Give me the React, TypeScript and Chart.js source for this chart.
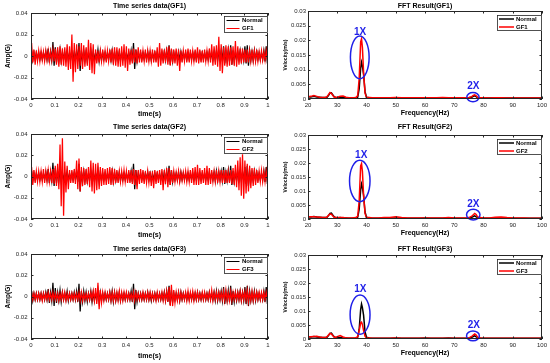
import React, { useEffect, useRef } from "react";
import { Chart, registerables } from "chart.js";
Chart.register(...registerables);

// ---------------- DATA ----------------
// Time series envelopes, per 0.01 s slot (milli-G): upper and lower excursions
const NORMAL_HI_MG = [
  5, 3, 3, 3, 3, 3, 4, 7, 4, 13,
  8, 4, 6, 4, 3, 5, 3, 3, 4, 5,
  12, 5, 5, 4, 3, 5, 4, 3, 6, 4,
  3, 3, 3, 4, 5, 4, 3, 4, 3, 3,
  3, 3, 5, 12, 6, 3, 3, 3, 3, 4,
  3, 3, 3, 3, 3, 3, 4, 5, 10, 6,
  3, 3, 4, 4, 3, 3, 3, 3, 3, 3,
  4, 3, 3, 3, 3, 4, 3, 4, 5, 4,
  5, 9, 4, 6, 10, 5, 4, 4, 5, 4,
  9, 10, 5, 4, 5, 4, 3, 3, 5, 9,
];
const NORMAL_LO_MG = [
  -4, -3, -3, -3, -3, -3, -3, -6, -4, -9,
  -6, -4, -5, -3, -3, -4, -3, -3, -3, -5,
  -14, -5, -4, -5, -3, -5, -4, -3, -5, -4,
  -3, -3, -3, -4, -5, -4, -3, -4, -3, -3,
  -3, -3, -5, -12, -5, -3, -3, -3, -3, -3,
  -4, -3, -3, -3, -3, -3, -4, -5, -8, -5,
  -3, -3, -4, -3, -3, -3, -3, -3, -3, -3,
  -3, -3, -3, -3, -3, -3, -3, -4, -4, -3,
  -4, -7, -4, -5, -8, -5, -4, -3, -4, -4,
  -7, -9, -4, -4, -4, -3, -3, -3, -5, -7,
];
const GF1_HI_MG = [
  12, 6, 5, 5, 5, 4, 5, 5, 4, 6,
  7, 8, 9, 7, 8, 11, 9, 20, 12, 11,
  9, 12, 10, 8, 15, 12, 11, 6, 5, 5,
  6, 5, 5, 6, 7, 8, 8, 7, 9, 11,
  9, 7, 6, 7, 6, 8, 6, 5, 6, 5,
  5, 6, 5, 8, 12, 7, 6, 8, 9, 7,
  6, 7, 6, 5, 5, 6, 7, 6, 5, 6,
  8, 6, 5, 6, 5, 7, 11, 9, 10, 18,
  11, 8, 10, 9, 8, 9, 14, 9, 7, 7,
  6, 6, 5, 6, 5, 6, 4, 5, 4, 5,
];
const GF1_LO_MG = [
  -6, -8, -5, -5, -4, -5, -4, -5, -4, -5,
  -8, -10, -8, -9, -10, -13, -12, -24, -15, -12,
  -9, -12, -10, -9, -13, -16, -17, -7, -6, -5,
  -5, -6, -5, -6, -8, -9, -10, -10, -9, -11,
  -14, -8, -7, -6, -7, -6, -6, -5, -6, -5,
  -5, -6, -6, -10, -9, -7, -6, -8, -9, -7,
  -7, -9, -14, -6, -5, -6, -6, -5, -5, -6,
  -7, -6, -6, -5, -5, -6, -9, -8, -10, -14,
  -16, -9, -10, -9, -8, -9, -10, -8, -7, -6,
  -6, -6, -5, -5, -5, -5, -4, -4, -4, -4,
];
const GF2_HI_MG = [
  9, 6, 5, 5, 5, 7, 5, 6, 5, 7,
  10, 12, 30, 36, 14, 10, 6, 6, 7, 15,
  17, 9, 8, 7, 9, 15, 13, 12, 13, 9,
  8, 7, 8, 9, 8, 7, 6, 5, 5, 6,
  5, 6, 6, 7, 6, 6, 7, 6, 5, 5,
  5, 5, 6, 5, 6, 7, 6, 8, 8, 6,
  5, 4, 5, 4, 4, 5, 5, 6, 8, 9,
  11, 8, 6, 8, 10, 8, 6, 5, 6, 5,
  6, 6, 6, 5, 6, 8, 11, 15, 18, 21,
  15, 12, 10, 8, 8, 6, 5, 6, 5, 5,
];
const GF2_LO_MG = [
  -8, -6, -5, -5, -5, -6, -5, -5, -6, -7,
  -9, -12, -28, -37, -15, -12, -6, -6, -7, -12,
  -14, -9, -8, -7, -10, -14, -16, -13, -12, -9,
  -8, -8, -7, -8, -8, -6, -6, -5, -5, -5,
  -6, -6, -7, -8, -12, -7, -6, -7, -6, -6,
  -9, -11, -7, -6, -8, -13, -7, -10, -8, -6,
  -5, -4, -5, -4, -4, -5, -5, -6, -8, -8,
  -8, -7, -6, -8, -8, -7, -5, -5, -6, -5,
  -6, -6, -6, -6, -7, -8, -10, -13, -18, -21,
  -16, -14, -11, -9, -8, -6, -5, -5, -5, -5,
];
const GF3_HI_MG = [
  4, 3, 3, 3, 3, 3, 3, 4, 3, 4,
  3, 3, 3, 4, 4, 3, 3, 3, 3, 3,
  4, 4, 3, 3, 3, 4, 5, 8, 13, 6,
  4, 4, 3, 4, 4, 4, 4, 5, 4, 4,
  4, 3, 3, 4, 4, 3, 3, 4, 3, 4,
  4, 3, 3, 4, 3, 4, 4, 5, 9, 11,
  6, 4, 4, 4, 3, 4, 5, 4, 5, 4,
  4, 3, 4, 4, 3, 4, 6, 4, 4, 4,
  4, 5, 6, 4, 5, 4, 4, 4, 5, 4,
  5, 6, 4, 5, 4, 4, 4, 4, 4, 4,
];
const GF3_LO_MG = [
  -3, -3, -3, -3, -4, -3, -3, -3, -3, -3,
  -3, -4, -3, -3, -4, -3, -3, -3, -3, -3,
  -4, -4, -3, -3, -3, -3, -4, -7, -12, -6,
  -4, -3, -3, -4, -4, -4, -4, -4, -4, -3,
  -3, -3, -3, -4, -3, -3, -3, -3, -3, -3,
  -3, -3, -4, -3, -3, -4, -4, -5, -9, -9,
  -6, -4, -4, -3, -3, -4, -4, -3, -4, -3,
  -3, -3, -3, -3, -3, -3, -4, -3, -3, -3,
  -3, -4, -4, -4, -4, -3, -3, -3, -4, -3,
  -4, -5, -4, -4, -3, -3, -3, -3, -3, -3,
];
const SLOT_SECONDS = 0.01;

// FFT spectra (velocity, m/s)
const FREQ_HZ = [
  20, 21, 22, 23, 24, 25, 26,
  26.5, 27, 27.5, 28, 28.5, 29, 29.5, 30,
  31, 32, 33, 34, 35, 36,
  36.5, 37, 37.5, 38, 38.3, 38.6, 39, 39.5, 40,
  41, 42,
  44, 46, 48, 50, 52, 54, 56, 58, 60, 62, 64, 66, 68, 70, 72, 74,
  75, 76, 76.5, 77, 77.5, 78, 79, 80,
  82, 84, 86, 88, 90, 92, 94, 96, 98, 100,
];
const FFT_NORMAL = [
  0.0008, 0.0007, 0.0009, 0.0007, 0.0006, 0.0005, 0.0005,
  0.0006, 0.0012, 0.0020, 0.0021, 0.0014, 0.0007, 0.0005, 0.0004,
  0.0005, 0.0004, 0.0004, 0.0003, 0.0003, 0.0003,
  0.0004, 0.0006, 0.0035, 0.0105, 0.0125, 0.0112, 0.0085, 0.0025, 0.0006,
  0.0004, 0.0003,
  0.0003, 0.0003, 0.0003, 0.0004, 0.0003, 0.0003, 0.0003, 0.0003, 0.0004, 0.0003, 0.0003, 0.0003, 0.0004, 0.0003, 0.0003, 0.0003,
  0.0004, 0.0006, 0.0009, 0.0011, 0.0008, 0.0004, 0.0003, 0.0003,
  0.0003, 0.0003, 0.0003, 0.0003, 0.0003, 0.0003, 0.0003, 0.0003, 0.0003, 0.0003,
];
const FFT_GF1 = [
  0.0008, 0.0009, 0.0012, 0.0009, 0.0006, 0.0005, 0.0006,
  0.0008, 0.0015, 0.0022, 0.0019, 0.0012, 0.0006, 0.0006, 0.0006,
  0.0009, 0.0010, 0.0006, 0.0004, 0.0004, 0.0005,
  0.0006, 0.0012, 0.0070, 0.0195, 0.0205, 0.0175, 0.0090, 0.0020, 0.0006,
  0.0005, 0.0004,
  0.0004, 0.0004, 0.0004, 0.0005, 0.0004, 0.0004, 0.0004, 0.0004, 0.0004, 0.0004, 0.0004, 0.0005, 0.0004, 0.0004, 0.0004, 0.0004,
  0.0005, 0.0008, 0.0012, 0.0014, 0.0011, 0.0005, 0.0004, 0.0004,
  0.0003, 0.0004, 0.0004, 0.0003, 0.0003, 0.0003, 0.0003, 0.0003, 0.0003, 0.0003,
];
const FFT_GF2 = [
  0.0008, 0.0008, 0.0008, 0.0007, 0.0006, 0.0005, 0.0005,
  0.0007, 0.0013, 0.0018, 0.0017, 0.0011, 0.0005, 0.0005, 0.0005,
  0.0005, 0.0005, 0.0004, 0.0004, 0.0004, 0.0005,
  0.0006, 0.0010, 0.0065, 0.0190, 0.0198, 0.0170, 0.0085, 0.0020, 0.0005,
  0.0005, 0.0004,
  0.0004, 0.0005, 0.0005, 0.0008, 0.0005, 0.0004, 0.0004, 0.0004, 0.0004, 0.0004, 0.0004, 0.0004, 0.0005, 0.0004, 0.0004, 0.0004,
  0.0005, 0.0010, 0.0015, 0.0020, 0.0016, 0.0007, 0.0005, 0.0004,
  0.0004, 0.0006, 0.0007, 0.0005, 0.0004, 0.0004, 0.0004, 0.0003, 0.0003, 0.0003,
];
const FFT_GF3 = [
  0.0008, 0.0008, 0.0009, 0.0010, 0.0007, 0.0005, 0.0005,
  0.0008, 0.0014, 0.0020, 0.0018, 0.0012, 0.0006, 0.0006, 0.0008,
  0.0012, 0.0007, 0.0004, 0.0004, 0.0004, 0.0004,
  0.0005, 0.0008, 0.0030, 0.0058, 0.0060, 0.0052, 0.0030, 0.0010, 0.0004,
  0.0004, 0.0003,
  0.0003, 0.0003, 0.0003, 0.0004, 0.0003, 0.0003, 0.0003, 0.0003, 0.0003, 0.0003, 0.0003, 0.0003, 0.0003, 0.0003, 0.0003, 0.0003,
  0.0004, 0.0009, 0.0014, 0.0018, 0.0014, 0.0006, 0.0004, 0.0003,
  0.0003, 0.0003, 0.0003, 0.0003, 0.0003, 0.0003, 0.0003, 0.0003, 0.0003, 0.0003,
];

// Labels and ticks
const FAULT_NAMES = ["GF1", "GF2", "GF3"];
const TS_TITLES = ["Time series data(GF1)", "Time series data(GF2)", "Time series data(GF3)"];
const FFT_TITLES = ["FFT Result(GF1)", "FFT Result(GF2)", "FFT Result(GF3)"];
const TS_X_TICKS = [0, 0.1, 0.2, 0.3, 0.4, 0.5, 0.6, 0.7, 0.8, 0.9, 1];
const TS_X_LABELS = ["0", "0.1", "0.2", "0.3", "0.4", "0.5", "0.6", "0.7", "0.8", "0.9", "1"];
const TS_Y_TICKS = [-0.04, -0.02, 0, 0.02, 0.04];
const TS_Y_LABELS = ["-0.04", "-0.02", "0", "0.02", "0.04"];
const FFT_X_TICKS = [20, 30, 40, 50, 60, 70, 80, 90, 100];
const FFT_X_LABELS = ["20", "30", "40", "50", "60", "70", "80", "90", "100"];
const FFT_Y_TICKS = [0, 0.005, 0.01, 0.015, 0.02, 0.025, 0.03];
const FFT_Y_LABELS = ["0", "0.005", "0.01", "0.015", "0.02", "0.025", "0.03"];

// Harmonic annotations (data coordinates)
const ONE_X_CENTER_HZ = [37.7, 37.7, 37.8];
const ONE_X_CENTER_V = [0.0142, 0.0136, 0.0087];
const ONE_X_RADIUS_HZ = [3.2, 3.5, 3.4];
const ONE_X_RADIUS_V = [0.0073, 0.0074, 0.007];
const TWO_X_CENTER_HZ = [76.4, 76.5, 76.4];
const TWO_X_CENTER_V = [0.00065, 0.00155, 0.0011];
const TWO_X_RADIUS_HZ = [2.1, 2.3, 2.2];
const TWO_X_RADIUS_V = [0.00155, 0.0019, 0.00175];
const ONE_X_LABEL_HZ = [37.8, 38.2, 37.9];
const ONE_X_LABEL_V = [0.0227, 0.0226, 0.0179];
const TWO_X_LABEL_HZ = [76.5, 76.5, 76.7];
const TWO_X_LABEL_V = [0.0044, 0.0052, 0.0048];

// ---------------- STYLE / LAYOUT ----------------
const FONT = '"Liberation Sans", Arial, Helvetica, sans-serif';
const RED = "#ff0000";
const BLACK = "#000000";
const BLUE = "#1f1fe8";
const AXIS = "#262626";

const ROWS = [
  { top: 0, h: 120, tsPadTop: 13, fftPadTop: 11, titleY: 6, tsXTitleY: 114, fftXTitleY: 113.3 },
  { top: 120, h: 120, tsPadTop: 14, fftPadTop: 15, titleY: 6.7, tsXTitleY: 115, fftXTitleY: 113.3 },
  { top: 240, h: 123, tsPadTop: 14, fftPadTop: 15, titleY: 9.3, tsXTitleY: 115.7, fftXTitleY: 113.3 },
];
const PLOT_BOTTOM = 99;

function envelope(hi: number[], lo: number[]) {
  const pts: { x: number; y: number }[] = [];
  hi.forEach((h, i) => {
    pts.push({ x: i * SLOT_SECONDS + SLOT_SECONDS * 0.25, y: h / 1000 });
    pts.push({ x: i * SLOT_SECONDS + SLOT_SECONDS * 0.75, y: lo[i] / 1000 });
  });
  return pts;
}
function spectrum(vals: number[]) {
  return FREQ_HZ.map((f, i) => ({ x: f, y: vals[i] }));
}

function makeDecor(d: any) {
  return {
    id: "decor",
    afterDatasetsDraw(chart: any) {
      const { ctx, chartArea: a, scales } = chart;
      const xs = scales.x;
      const ys = scales.y;
      ctx.save();
      // harmonic ellipses
      (d.ellipses || []).forEach((e: any) => {
        const cx = xs.getPixelForValue(e.hz);
        const cy = ys.getPixelForValue(e.v);
        const rx = Math.abs(xs.getPixelForValue(e.hz + e.rHz) - cx);
        const ry = Math.abs(ys.getPixelForValue(e.v + e.rV) - cy);
        ctx.beginPath();
        ctx.ellipse(cx, cy, rx, ry, 0, 0, Math.PI * 2);
        ctx.strokeStyle = BLUE;
        ctx.lineWidth = 1.5;
        ctx.stroke();
      });
      (d.marks || []).forEach((m: any) => {
        ctx.fillStyle = BLUE;
        ctx.font = `bold 10px ${FONT}`;
        ctx.textAlign = "center";
        ctx.textBaseline = "middle";
        ctx.fillText(m.text, xs.getPixelForValue(m.hz), ys.getPixelForValue(m.v));
      });
      // axes box
      ctx.strokeStyle = AXIS;
      ctx.lineWidth = 1;
      ctx.strokeRect(a.left + 0.5, a.top + 0.5, a.right - a.left - 1, a.bottom - a.top - 1);
      // inward tick marks
      ctx.beginPath();
      d.xTicks.forEach((v: number) => {
        const px = Math.round(xs.getPixelForValue(v)) + 0.5;
        ctx.moveTo(px, a.bottom);
        ctx.lineTo(px, a.bottom - 2.5);
        ctx.moveTo(px, a.top);
        ctx.lineTo(px, a.top + 2.5);
      });
      d.yTicks.forEach((v: number) => {
        const py = Math.round(ys.getPixelForValue(v)) + 0.5;
        ctx.moveTo(a.left, py);
        ctx.lineTo(a.left + 2.5, py);
        ctx.moveTo(a.right, py);
        ctx.lineTo(a.right - 2.5, py);
      });
      ctx.stroke();
      // legend
      const lg = d.legend;
      const bx = a.right - lg.w;
      const by = a.top + lg.offTop;
      ctx.fillStyle = "#fff";
      ctx.fillRect(bx, by, lg.w, lg.h);
      ctx.strokeStyle = AXIS;
      ctx.lineWidth = 0.8;
      ctx.strokeRect(bx + 0.5, by + 0.5, lg.w - 1, lg.h - 1);
      lg.items.forEach((it: any, i: number) => {
        const y = by + lg.rowY[i];
        ctx.beginPath();
        ctx.strokeStyle = it.color;
        ctx.lineWidth = lg.lineWidth;
        ctx.moveTo(bx + lg.lineX0, y);
        ctx.lineTo(bx + lg.lineX1, y);
        ctx.stroke();
        ctx.fillStyle = "#000";
        ctx.font = `bold 6px ${FONT}`;
        ctx.textAlign = "left";
        ctx.textBaseline = "middle";
        ctx.fillText(it.text, bx + lg.textX, y);
      });
      // title
      ctx.fillStyle = "#000";
      ctx.font = `bold 7px ${FONT}`;
      ctx.textAlign = "center";
      ctx.textBaseline = "middle";
      ctx.fillText(d.title, (a.left + a.right) / 2, d.titleY);
      ctx.restore();
    },
  };
}

function axisCommon(ticks: number[], labels: string[], min: number, max: number, pad: number) {
  return {
    type: "linear",
    min,
    max,
    afterBuildTicks: (s: any) => {
      s.ticks = ticks.map((v) => ({ value: v }));
    },
    ticks: {
      autoSkip: false,
      maxRotation: 0,
      padding: pad,
      color: AXIS,
      font: { family: FONT, size: 6 },
      callback: (_v: any, i: number) => labels[i],
    },
    grid: { display: false, drawTicks: false },
    border: { display: false },
  };
}

function tsConfig(k: number) {
  const r = ROWS[k];
  const xh = r.h - PLOT_BOTTOM;
  return {
    type: "line",
    data: {
      datasets: [
        { label: FAULT_NAMES[k], data: envelope([GF1_HI_MG, GF2_HI_MG, GF3_HI_MG][k], [GF1_LO_MG, GF2_LO_MG, GF3_LO_MG][k]), borderColor: RED, borderWidth: 1.25, pointRadius: 0, tension: 0, order: 1 },
        { label: "Normal", data: envelope(NORMAL_HI_MG, NORMAL_LO_MG), borderColor: BLACK, borderWidth: 1.25, pointRadius: 0, tension: 0, order: 2 },
      ],
    },
    options: {
      animation: false,
      responsive: false,
      devicePixelRatio: 1,
      layout: { padding: { top: r.tsPadTop, right: 7, left: 0, bottom: 0 } },
      plugins: { legend: { display: false }, tooltip: { enabled: false }, title: { display: false } },
      scales: {
        x: {
          ...axisCommon(TS_X_TICKS, TS_X_LABELS, 0, 1, 3),
          title: { display: true, text: "time(s)", color: "#000", font: { family: FONT, size: 7, weight: "bold", lineHeight: 1 }, padding: { top: 0, bottom: r.h - r.tsXTitleY - 3.5 } },
          afterFit: (s: any) => { s.height = xh; },
        },
        y: {
          ...axisCommon(TS_Y_TICKS, TS_Y_LABELS, -0.04, 0.04, 3.5),
          title: { display: true, text: "Amp(G)", color: "#000", font: { family: FONT, size: 6.5, weight: "bold", lineHeight: 1 }, padding: { top: 5, bottom: 0 } },
          afterFit: (s: any) => { s.width = 31; },
        },
      },
    },
    plugins: [
      makeDecor({
        title: TS_TITLES[k],
        titleY: r.titleY,
        xTicks: TS_X_TICKS,
        yTicks: TS_Y_TICKS,
        legend: {
          w: 44, h: 17, offTop: 3, rowY: [4.5, 12.5], lineX0: 2.5, lineX1: 15.5, textX: 18, lineWidth: 1,
          items: [{ text: "Normal", color: BLACK }, { text: FAULT_NAMES[k], color: RED }],
        },
      }),
    ],
  };
}

function fftConfig(k: number) {
  const r = ROWS[k];
  const xh = r.h - PLOT_BOTTOM;
  return {
    type: "line",
    data: {
      datasets: [
        { label: FAULT_NAMES[k], data: spectrum([FFT_GF1, FFT_GF2, FFT_GF3][k]), borderColor: RED, borderWidth: 1.5, pointRadius: 0, tension: 0, order: 1 },
        { label: "Normal", data: spectrum(FFT_NORMAL), borderColor: BLACK, borderWidth: 1.5, pointRadius: 0, tension: 0, order: 2 },
      ],
    },
    options: {
      animation: false,
      responsive: false,
      devicePixelRatio: 1,
      layout: { padding: { top: r.fftPadTop, right: 7, left: 0, bottom: 0 } },
      plugins: { legend: { display: false }, tooltip: { enabled: false }, title: { display: false } },
      scales: {
        x: {
          ...axisCommon(FFT_X_TICKS, FFT_X_LABELS, 20, 100, 3),
          title: { display: true, text: "Frequency(Hz)", color: "#000", font: { family: FONT, size: 7, weight: "bold", lineHeight: 1 }, padding: { top: 0, bottom: r.h - r.fftXTitleY - 3.5 } },
          afterFit: (s: any) => { s.height = xh; },
        },
        y: {
          ...axisCommon(FFT_Y_TICKS, FFT_Y_LABELS, 0, 0.03, 2),
          title: { display: true, text: "Velocity(m/s)", color: "#000", font: { family: FONT, size: 5, weight: "bold", lineHeight: 1 }, padding: { top: 8.5, bottom: 0 } },
          afterFit: (s: any) => { s.width = 33; },
        },
      },
    },
    plugins: [
      makeDecor({
        title: FFT_TITLES[k],
        titleY: r.titleY,
        xTicks: FFT_X_TICKS,
        yTicks: FFT_Y_TICKS,
        legend: {
          w: 45, h: 16, offTop: 4, rowY: [4, 12], lineX0: 2, lineX1: 17, textX: 19, lineWidth: 1.5,
          items: [{ text: "Normal", color: BLACK }, { text: FAULT_NAMES[k], color: RED }],
        },
        ellipses: [
          { hz: ONE_X_CENTER_HZ[k], v: ONE_X_CENTER_V[k], rHz: ONE_X_RADIUS_HZ[k], rV: ONE_X_RADIUS_V[k] },
          { hz: TWO_X_CENTER_HZ[k], v: TWO_X_CENTER_V[k], rHz: TWO_X_RADIUS_HZ[k], rV: TWO_X_RADIUS_V[k] },
        ],
        marks: [
          { text: "1X", hz: ONE_X_LABEL_HZ[k], v: ONE_X_LABEL_V[k] },
          { text: "2X", hz: TWO_X_LABEL_HZ[k], v: TWO_X_LABEL_V[k] },
        ],
      }),
    ],
  };
}

function Panel({ left, top, w, h, make }: { left: number; top: number; w: number; h: number; make: () => any }) {
  const ref = useRef<HTMLCanvasElement>(null);
  useEffect(() => {
    const chart = new Chart(ref.current as HTMLCanvasElement, make());
    return () => chart.destroy();
  }, []);
  return (
    <canvas
      ref={ref}
      width={w}
      height={h}
      style={{ position: "absolute", left, top, width: w, height: h, display: "block" }}
    />
  );
}

export default function App() {
  return (
    <div style={{ position: "fixed", left: 0, top: 0, width: 550, height: 363, background: "#fff", overflow: "hidden" }}>
      {ROWS.map((r, k) => (
        <React.Fragment key={k}>
          <Panel left={0} top={r.top} w={275} h={r.h} make={() => tsConfig(k)} />
          <Panel left={275} top={r.top} w={275} h={r.h} make={() => fftConfig(k)} />
        </React.Fragment>
      ))}
    </div>
  );
}
